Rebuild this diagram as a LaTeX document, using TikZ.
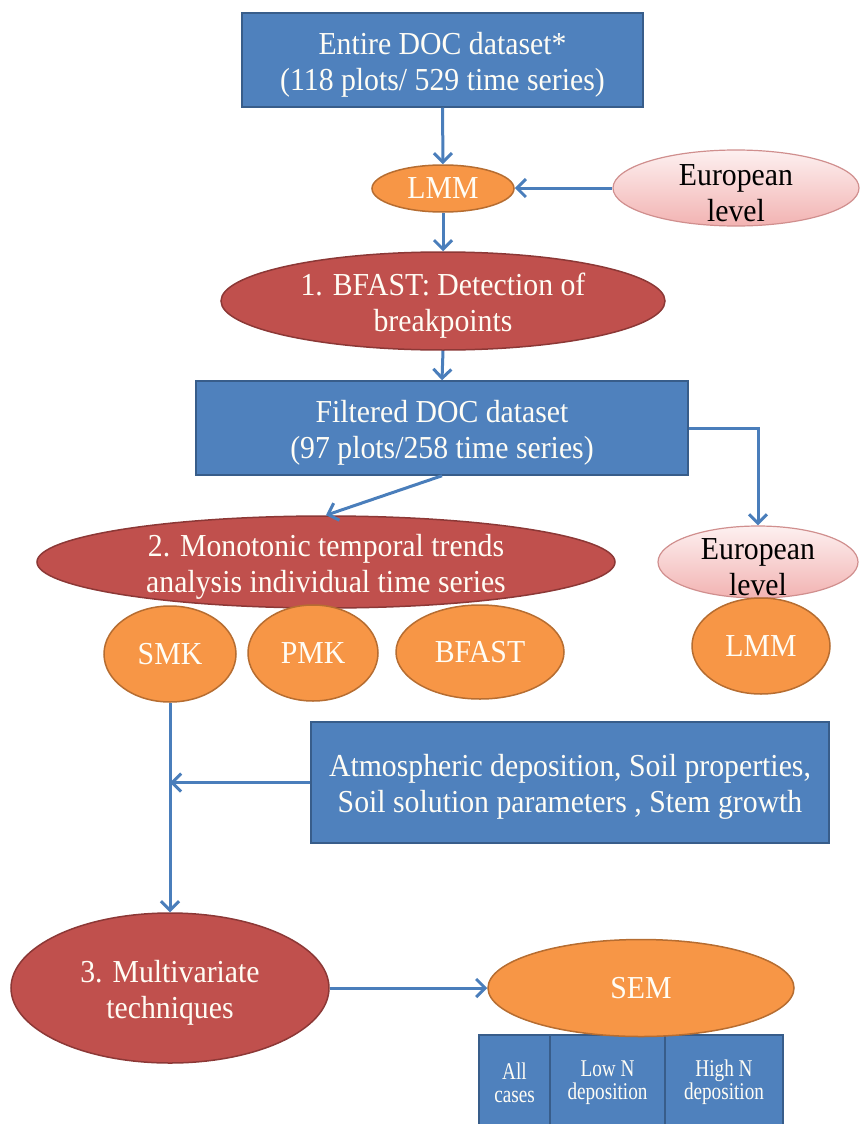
\documentclass[tikz,border=0pt]{standalone}
\usepackage{fontspec}
\setmainfont{Liberation Serif}[FakeStretch=0.93]
\newfontfamily\smallfam{Liberation Serif}[FakeStretch=0.8]
\usetikzlibrary{shapes.geometric,arrows.meta}
\definecolor{bfill}{HTML}{4F81BD}
\definecolor{bdraw}{HTML}{385D8A}
\definecolor{rfill}{HTML}{C0504D}
\definecolor{rdraw}{HTML}{8C3836}
\definecolor{ofill}{HTML}{F79646}
\definecolor{odraw}{HTML}{B66D31}
\definecolor{ptop}{HTML}{FDF0F0}
\definecolor{pbot}{HTML}{F2B3B2}
\definecolor{pdraw}{HTML}{D08F8E}
\definecolor{acol}{HTML}{4A7EBB}
\definecolor{txtw}{HTML}{FFFDF5}
\newcommand{\dn}{\rule{0pt}{31pt}}
\begin{document}
\begin{tikzpicture}[x=1pt,y=-1pt,
  bigfont/.style={font=\fontsize{32}{36}\selectfont},
  bluebox/.style={rectangle,draw=bdraw,fill=bfill,line width=1.5pt,text=txtw,align=center,inner sep=0pt,bigfont},
  smallbox/.style={rectangle,draw=bdraw,fill=bfill,line width=1.5pt,text=txtw,align=center,inner sep=0pt,font=\smallfam\fontsize{24}{23}\selectfont},
  redell/.style={ellipse,draw=rdraw,fill=rfill,line width=1.5pt,text=txtw,align=center,inner xsep=0pt,inner ysep=-22pt,bigfont},
  orell/.style={ellipse,draw=odraw,fill=ofill,line width=1.5pt,text=txtw,align=center,inner sep=0pt,bigfont},
  pinkell/.style={ellipse,draw=pdraw,top color=ptop,bottom color=pbot,line width=1.2pt,text=black,align=center,inner xsep=0pt,inner ysep=-22pt,bigfont},
  arr/.style={draw=acol,line width=3pt,-{Straight Barb[length=9pt,width=18pt,line width=3pt]}}
]
\useasboundingbox (0,0) rectangle (860,1124);

% nodes
\node[bluebox,minimum width=401pt,minimum height=94pt] (box1) at (442.5,60) {\dn Entire DOC dataset*\\(118 plots/ 529 time series)};
\node[orell,minimum width=142pt,minimum height=47pt] (lmm1) at (443,188.5) {LMM};
\node[pinkell,minimum width=246pt,minimum height=76pt] (eur1) at (736,188) {\dn European\\level};
\node[redell,minimum width=444pt,minimum height=98pt] (bfast1) at (443,301) {\dn 1. BFAST: Detection of\\breakpoints};
\node[bluebox,minimum width=492pt,minimum height=94pt] (box2) at (442,428) {\dn Filtered DOC dataset\\(97 plots/258 time series)};
\node[redell,minimum width=578pt,minimum height=92pt] (ell2) at (326,562) {\dn 2. Monotonic temporal trends\\analysis individual time series};
\node[pinkell,minimum width=200pt,minimum height=72pt] (eur2) at (758,562) {\dn European\\level};
\node[orell,minimum width=132pt,minimum height=96pt] (smk) at (170,654) {SMK};
\node[orell,minimum width=130pt,minimum height=96pt] (pmk) at (313,653) {PMK};
\node[orell,minimum width=168pt,minimum height=94pt] (bfast2) at (480,652) {BFAST};
\node[orell,minimum width=138pt,minimum height=96pt] (lmm2) at (761,646) {LMM};
\node[bluebox,minimum width=518pt,minimum height=121pt] (box3) at (570,782.5) {\dn Atmospheric deposition, Soil properties,\\Soil solution parameters , Stem growth};
\node[redell,minimum width=318pt,minimum height=150pt] (multi) at (170,988) {\dn 3. Multivariate\\techniques};
\node[smallbox,minimum width=71pt,minimum height=95pt] (allc) at (514.5,1082.5) {All\\cases};
\node[smallbox,minimum width=115pt,minimum height=95pt] (lown) at (607.5,1082.5) {Low N\\deposition};
\node[smallbox,minimum width=118pt,minimum height=95pt] (highn) at (724,1082.5) {High N\\deposition};
\node[orell,minimum width=306pt,minimum height=97pt] (sem) at (641,988) {SEM};

% connectors
\draw[arr] (box1.south) -- (lmm1.north);
\draw[arr] (eur1.west) -- (eur1.west -| lmm1.east);
\draw[arr] (lmm1.south) -- (bfast1.north);
\draw[arr] (bfast1.south) -- (box2.north);
\draw[arr] (box2.south) -- (ell2.north);
\draw[arr] (box2.east) -| (eur2.north);
\coordinate (join) at (box3.west -| smk.south);
\draw[arr] (smk.south) -- (multi.north);
\draw[arr] (box3.west) -- (join);
\draw[arr] (multi.east) -- (sem.west);
\end{tikzpicture}
\end{document}
